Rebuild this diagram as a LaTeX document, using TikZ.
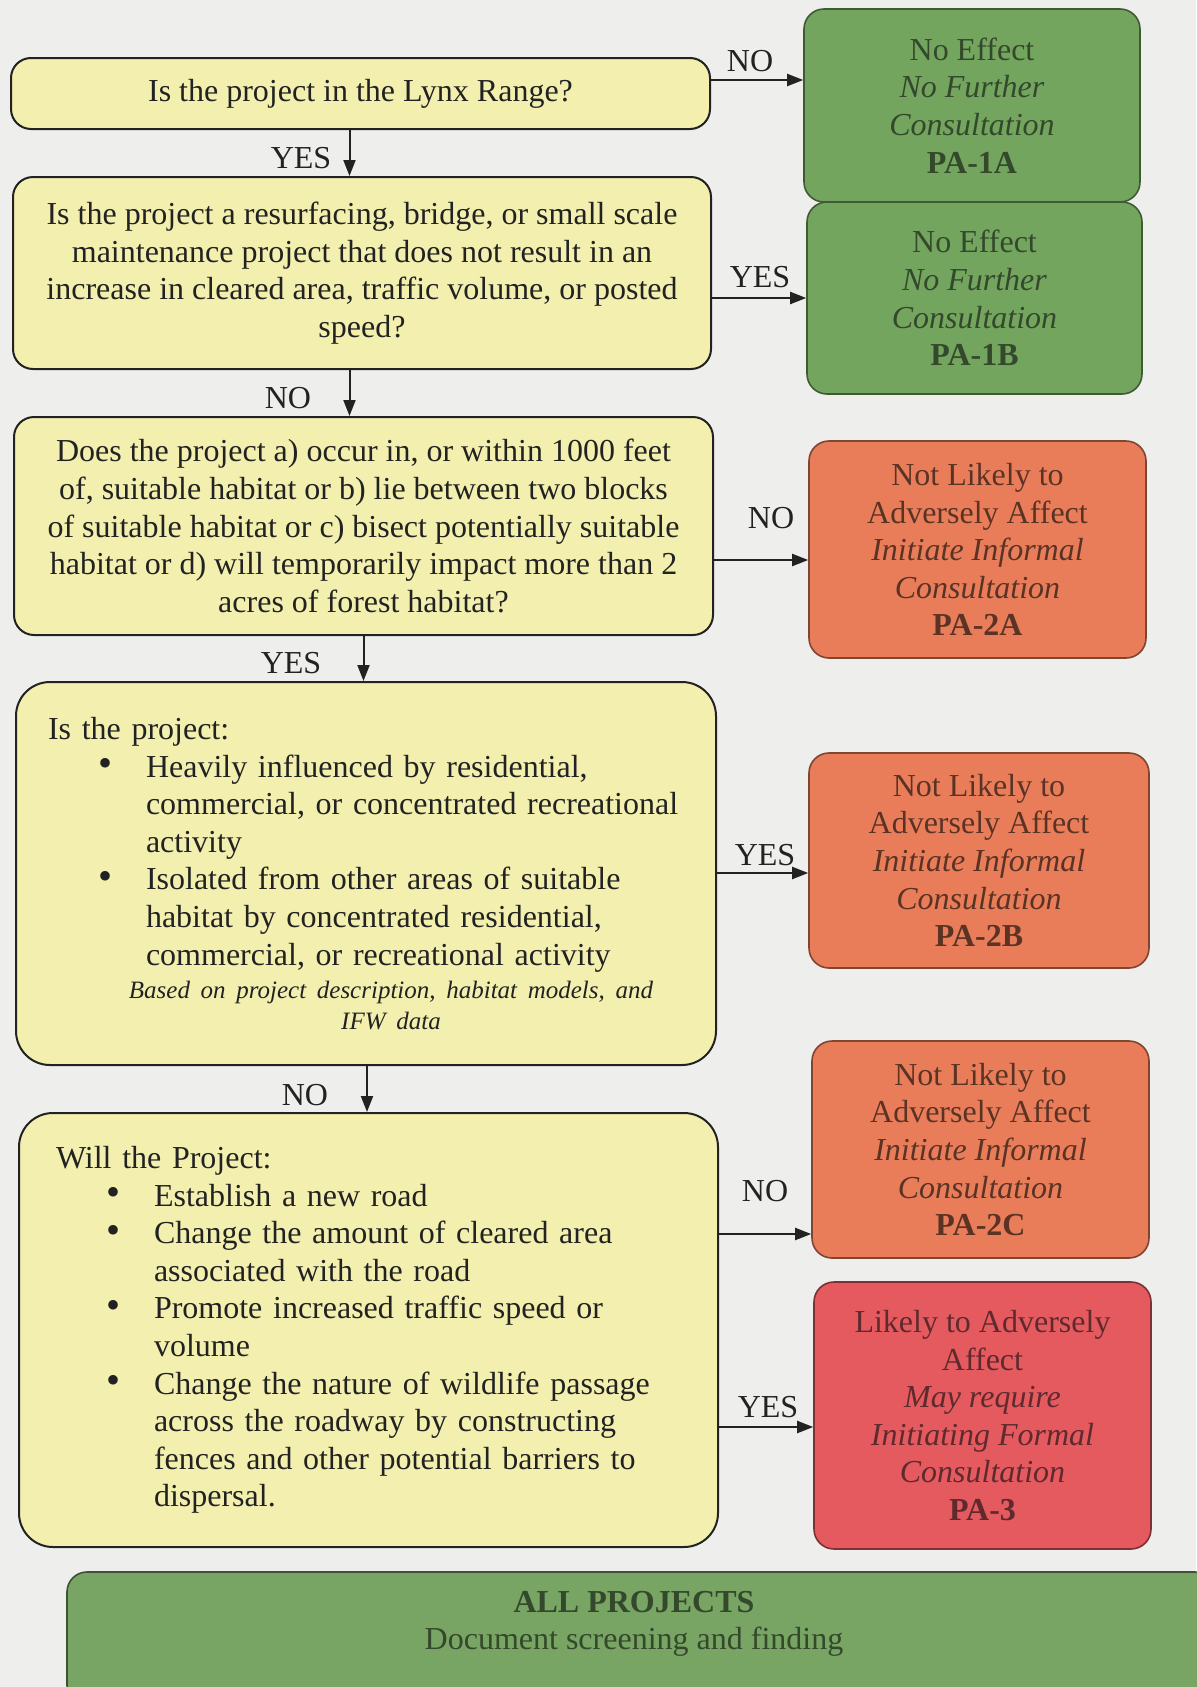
\documentclass[tikz,border=0pt]{standalone}
\usepackage{fontspec}
\setmainfont{Liberation Serif}
\usetikzlibrary{arrows.meta}
\definecolor{bg}{HTML}{EEEEEC}
\definecolor{ylw}{HTML}{F3F0AF}
\definecolor{grn}{HTML}{73A55F}
\definecolor{org}{HTML}{E97D5A}
\definecolor{rd}{HTML}{E45A5F}
\definecolor{allg}{HTML}{78A564}
\definecolor{txt}{HTML}{222222}
\definecolor{gtxt}{HTML}{34482C}
\definecolor{otxt}{HTML}{5A3325}
\definecolor{rtxt}{HTML}{5E2A2E}
\newcommand{\fs}{\fontsize{16}{18.8}\selectfont}
\newcommand{\smit}{\fontsize{12.5}{15}\selectfont\itshape}
\newcommand{\bul}[1]{\hspace*{25pt}\makebox[24pt][l]{\raisebox{0.3pt}{\fontsize{20}{18.8}\selectfont\textbullet}}#1}
\newcommand{\cnt}[1]{\hspace*{49pt}#1}
\tikzset{
  ybox/.style={draw=txt, line width=1pt, fill=ylw, rounded corners=10pt, inner sep=0pt, text=txt, align=center, font=\fs},
  lbox/.style={draw=txt, line width=1pt, fill=ylw, rounded corners=17pt, inner ysep=0pt, text=txt, align=left, font=\fs},
  rbox/.style={draw=#1!55!black, line width=0.8pt, fill=#1, rounded corners=10pt, inner sep=0pt, align=center, font=\fs},
  arr/.style={draw=txt, line width=1pt, -{Triangle[length=8pt,width=6pt]}},
  lbl/.style={inner sep=0pt, text=txt, font=\fs}
}
\begin{document}
\begin{tikzpicture}[x=0.5pt,y=-0.5pt]
\useasboundingbox (0,0) rectangle (1196,1687);
\fill[bg] (0,0) rectangle (1196,1687);

% question boxes
\node[ybox, minimum width=349.5pt, minimum height=35.5pt] (b1) at (360.5,93.5) {Is the project in the Lynx Range?};
\node[ybox, minimum width=349pt, minimum height=96pt] (b2) at (362,273) {Is the project a resurfacing, bridge, or small scale\\ maintenance project that does not result in an\\ increase in cleared area, traffic volume, or posted\\ speed?};
\node[ybox, minimum width=349.5pt, minimum height=109pt] (b3) at (363.5,526) {Does the project a) occur in, or within 1000 feet\\ of, suitable habitat or b) lie between two blocks\\ of suitable habitat or c) bisect potentially suitable\\ habitat or d) will temporarily impact more than 2\\ acres of forest habitat?};
\node[lbox, text width=318pt, inner xsep=16pt, minimum width=350pt, minimum height=191.5pt] (b4) at (366,873.5) {Is the project:\\
\bul{Heavily influenced by residential,}\\
\cnt{commercial, or concentrated recreational}\\
\cnt{activity}\\
\bul{Isolated from other areas of suitable}\\
\cnt{habitat by concentrated residential,}\\
\cnt{commercial, or recreational activity}\\[-2pt]
\makebox[318pt][c]{\hspace*{25pt}\smit Based on project description, habitat models, and}\\[-3.5pt]
\makebox[318pt][c]{\hspace*{25pt}\smit IFW data}};
\node[lbox, text width=312.5pt, inner xsep=18.5pt, minimum width=349.5pt, minimum height=217pt] (b5) at (368.5,1330) {Will the Project:\\
\bul{Establish a new road}\\
\bul{Change the amount of cleared area}\\
\cnt{associated with the road}\\
\bul{Promote increased traffic speed or}\\
\cnt{volume}\\
\bul{Change the nature of wildlife passage}\\
\cnt{across the roadway by constructing}\\
\cnt{fences and other potential barriers to}\\
\cnt{dispersal.}};

% outcome boxes
\node[rbox=grn, text=gtxt, minimum width=168pt, minimum height=96.5pt] (pa1a) at (972,105.5) {No Effect\\ \textit{No Further}\\ \textit{Consultation}\\ \textbf{PA-1A}};
\node[rbox=grn, text=gtxt, minimum width=167.5pt, minimum height=96pt] (pa1b) at (974.5,298) {No Effect\\ \textit{No Further}\\ \textit{Consultation}\\ \textbf{PA-1B}};
\node[rbox=org, text=otxt, minimum width=168.5pt, minimum height=108.5pt] (pa2a) at (977.5,549.5) {Not Likely to\\ Adversely Affect\\ \textit{Initiate Informal}\\ \textit{Consultation}\\ \textbf{PA-2A}};
\node[rbox=org, text=otxt, minimum width=170pt, minimum height=107.5pt] (pa2b) at (979,860.5) {Not Likely to\\ Adversely Affect\\ \textit{Initiate Informal}\\ \textit{Consultation}\\ \textbf{PA-2B}};
\node[rbox=org, text=otxt, minimum width=168.5pt, minimum height=108.5pt] (pa2c) at (980.5,1149.5) {Not Likely to\\ Adversely Affect\\ \textit{Initiate Informal}\\ \textit{Consultation}\\ \textbf{PA-2C}};
\node[rbox=rd, text=rtxt, minimum width=168.5pt, minimum height=133.5pt] (pa3) at (982.5,1415.5) {Likely to Adversely\\ Affect\\ \textit{May require}\\ \textit{Initiating Formal}\\ \textit{Consultation}\\ \textbf{PA-3}};

% all projects
\node[draw=allg!50!black, line width=0.8pt, fill=allg, rounded corners=10pt, minimum width=574pt, minimum height=66.5pt] (allb) at (641,1638.5) {};
\node[inner sep=0pt, align=center, font=\fs, text=gtxt] (allt) at (634,1624) {\textbf{ALL PROJECTS}\\ Document screening and finding};

% connector guide coordinates
\coordinate (h1) at (0,80);
\coordinate (h2) at (0,298);
\coordinate (h3) at (0,560);
\coordinate (h4) at (0,873);
\coordinate (h5) at (0,1234);
\coordinate (h6) at (0,1427);
\coordinate (v1) at (349.5,0);
\coordinate (v3) at (363.5,0);
\coordinate (v4) at (367,0);

\draw[arr] (b1.east|-h1) -- (pa1a.west|-h1);
\draw[arr] (b2.east|-h2) -- (pa1b.west|-h2);
\draw[arr] (b3.east|-h3) -- (pa2a.west|-h3);
\draw[arr] (b4.east|-h4) -- (pa2b.west|-h4);
\draw[arr] (b5.east|-h5) -- (pa2c.west|-h5);
\draw[arr] (b5.east|-h6) -- (pa3.west|-h6);
\draw[arr] (b1.south-|v1) -- (b2.north-|v1);
\draw[arr] (b2.south-|v1) -- (b3.north-|v1);
\draw[arr] (b3.south-|v3) -- (b4.north-|v3);
\draw[arr] (b4.south-|v4) -- (b5.north-|v4);

% labels
\node[lbl] (l1) at (750,61) {NO};
\node[lbl] (l2) at (301,158) {YES};
\node[lbl] (l3) at (760,277) {YES};
\node[lbl] (l4) at (288,398) {NO};
\node[lbl] (l5) at (771,518) {NO};
\node[lbl] (l6) at (291,663) {YES};
\node[lbl] (l7) at (765,855) {YES};
\node[lbl] (l8) at (305,1095) {NO};
\node[lbl] (l9) at (765,1191) {NO};
\node[lbl] (l10) at (768,1407) {YES};
\end{tikzpicture}
\end{document}
